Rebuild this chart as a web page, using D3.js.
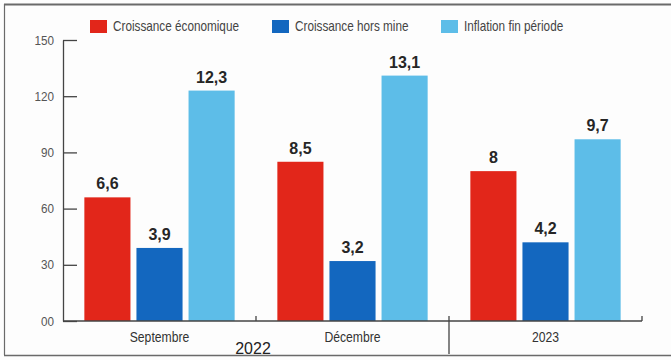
<!DOCTYPE html>
<html>
<head>
<meta charset="utf-8">
<script src="https://cdn.jsdelivr.net/npm/d3@7"></script>
<style>
  html, body { margin: 0; padding: 0; background: #fdfdfd; }
  svg { display: block; }
</style>
</head>
<body>
<svg id="chart" width="671" height="360"></svg>
<script>
// Periods on the x axis
const categories = ["Septembre", "Décembre", "2023"];
// Series names (legend order)
const seriesNames = ["Croissance économique", "Croissance hors mine", "Inflation fin période"];
// Values per series, one per period (in %)
const croissanceEconomique = [6.6, 8.5, 8];
const croissanceHorsMine = [3.9, 3.2, 4.2];
const inflationFinPeriode = [12.3, 13.1, 9.7];
// Y axis tick values and their printed labels
const yTickValues = [0, 3, 6, 9, 12, 15];
const yTickLabels = ["00", "30", "60", "90", "120", "150"];
const yearLabel = "2022";

const seriesValues = [croissanceEconomique, croissanceHorsMine, inflationFinPeriode];
const colors = ["#e2261a", "#1367bf", "#5dbde8"];
const FONT = "Liberation Sans, Arial, sans-serif";
const NARROW = 0.84; // horizontal squeeze for condensed labels

const svg = d3.select("#chart");

// Places a condensed text at (x, y)
function narrowText(sel, x, y) {
  return sel.attr("x", 0).attr("y", 0)
    .attr("transform", (d, i) => `translate(${x(d, i)},${y(d, i)}) scale(${NARROW},1)`);
}

// Outer frame (left, top, bottom edges)
const frame = svg.append("g").attr("fill", "none").attr("stroke", "#6a6a6a");
frame.append("line").attr("x1", 4.5).attr("x2", 4.5).attr("y1", 4).attr("y2", 355).attr("stroke-width", 1.2);
frame.append("line").attr("x1", 4).attr("x2", 671).attr("y1", 4.5).attr("y2", 4.5).attr("stroke-width", 1.8);
frame.append("line").attr("x1", 4).attr("x2", 671).attr("y1", 355.5).attr("y2", 355.5).attr("stroke-width", 1.6);

const x0 = d3.scaleBand().domain(categories).range([63, 642]).padding(0);
const x1 = d3.scaleBand().domain(d3.range(seriesNames.length))
  .range([0, x0.bandwidth()]).paddingInner(0.115).paddingOuter(0.41);
const y = d3.scaleLinear().domain([0, 15]).range([321, 40]);

// Bars
const rows = categories.map((c, i) => ({ cat: c, vals: seriesValues.map(s => s[i]) }));
const groups = svg.append("g").selectAll("g").data(rows).join("g")
  .attr("transform", d => `translate(${x0(d.cat)},0)`);

groups.selectAll("rect").data(d => d.vals.map((v, k) => ({ v, k }))).join("rect")
  .attr("x", d => x1(d.k))
  .attr("width", x1.bandwidth())
  .attr("y", d => y(d.v))
  .attr("height", d => y(0) - y(d.v))
  .attr("fill", d => colors[d.k]);

// Value labels
groups.selectAll("text").data(d => d.vals.map((v, k) => ({ v, k }))).join("text")
  .attr("x", d => x1(d.k) + x1.bandwidth() / 2)
  .attr("y", d => y(d.v) - 8)
  .attr("text-anchor", "middle")
  .attr("font-family", FONT)
  .attr("font-weight", "bold")
  .attr("font-size", 16)
  .attr("fill", "#262626")
  .text(d => String(d.v).replace(".", ","));

// Y axis
const yAxis = d3.axisLeft(y)
  .tickValues(yTickValues)
  .tickFormat((d, i) => yTickLabels[i])
  .tickSizeInner(-14)
  .tickSizeOuter(0)
  .tickPadding(10);
const gy = svg.append("g").attr("transform", "translate(63,0)").call(yAxis);
gy.select(".domain").attr("stroke", "#444").attr("stroke-width", 1.3);
gy.selectAll(".tick line").attr("stroke", "#444").attr("stroke-width", 1.3);
gy.selectAll(".tick text").attr("font-family", FONT).attr("font-size", 13).attr("fill", "#555")
  .attr("transform", `scale(${NARROW + 0.06},1)`);

// X axis baseline and separators
const xa = svg.append("g").attr("stroke", "#444").attr("stroke-width", 1.3);
xa.append("line").attr("x1", 63).attr("x2", x0.range()[1]).attr("y1", y(0)).attr("y2", y(0));
xa.append("line").attr("x1", x0("Décembre")).attr("x2", x0("Décembre")).attr("y1", y(0)).attr("y2", y(0) - 5);
xa.append("line").attr("x1", x0("2023")).attr("x2", x0("2023")).attr("y1", y(0) - 5).attr("y2", 354);
xa.append("line").attr("x1", x0.range()[1]).attr("x2", x0.range()[1]).attr("y1", y(0)).attr("y2", y(0) - 5);

// Category labels
svg.append("g").selectAll("text").data(categories).join("text")
  .call(narrowText, d => x0(d) + x0.bandwidth() / 2, () => 342)
  .attr("text-anchor", "middle")
  .attr("font-family", FONT)
  .attr("font-size", 14.5)
  .attr("fill", "#333")
  .text(d => d);

svg.append("text")
  .attr("x", x0("Décembre") - 3)
  .attr("y", 354)
  .attr("text-anchor", "middle")
  .attr("font-family", FONT)
  .attr("font-size", 16)
  .attr("fill", "#222")
  .text(yearLabel);

// Legend
const legendX = [90, 272, 441];
const legend = svg.append("g").selectAll("g").data(seriesNames).join("g")
  .attr("transform", (d, i) => `translate(${legendX[i]},20)`);
legend.append("rect").attr("width", 17).attr("height", 13).attr("fill", (d, i) => colors[i]);
legend.append("text")
  .call(narrowText, () => 23, () => 11)
  .attr("font-family", FONT)
  .attr("font-size", 14)
  .attr("fill", "#444")
  .text(d => d);
</script>
</body>
</html>
